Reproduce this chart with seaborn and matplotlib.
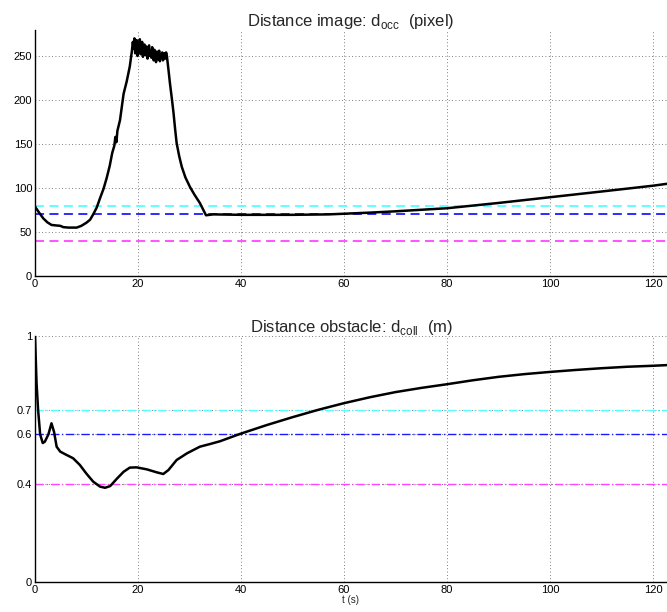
import numpy as np
import pandas as pd
import matplotlib
matplotlib.use("Agg")
import matplotlib.pyplot as plt
import seaborn as sns

# ---- data: d_occ (pixel) ----
t_occ_a = [0, 0.8, 1.6, 2.4, 3.2, 4.0, 4.9, 5.5, 6.5, 8.1, 9.0, 10.0, 10.7, 11.3, 12.0, 12.6, 13.3,
           13.9, 14.5, 15.0, 15.4, 15.6, 15.8, 16.0, 16.5, 17.2, 17.8, 18.4, 18.8]
v_occ_a = [78.8, 72, 65.5, 61, 58, 57.5, 57, 55.5, 55, 55, 57, 60.6, 64, 70, 78, 88, 99,
           111, 125, 140, 148, 158, 152, 165, 177, 207, 221, 238, 255]
t_occ_b = [19.0, 19.15, 19.3, 19.45, 19.6, 19.75, 19.9, 20.05, 20.2, 20.35, 20.5, 20.65, 20.8, 20.95,
           21.1, 21.25, 21.4, 21.55, 21.7, 21.85, 22.0, 22.15, 22.3, 22.45, 22.6, 22.75, 22.9, 23.05,
           23.2, 23.35, 23.5, 23.65, 23.8, 23.95, 24.1, 24.25, 24.4, 24.55, 24.7, 24.85, 25.0, 25.15,
           25.3, 25.45, 25.6]
v_occ_b = [266, 258, 270, 253, 262, 268, 250, 264, 257, 269, 252, 260, 266, 249, 258, 263, 251, 261,
           255, 247, 259, 262, 250, 256, 248, 260, 253, 245, 257, 251, 243, 255, 249, 246, 256, 244,
           252, 248, 254, 245, 251, 253, 247, 254, 250]
t_occ_c = [25.9, 26.2, 26.6, 26.9, 27.2, 27.5, 28.0, 28.5, 29.2, 30.1, 31.0, 32.0, 32.6, 33.2, 34.6,
           40, 50, 57, 65, 70, 80, 90, 100, 110, 120, 123]
v_occ_c = [235, 219, 200, 185, 167, 151, 136, 124, 112, 101, 92, 83, 76, 69, 70,
           69.5, 69.5, 70, 72, 73.5, 77, 83, 89.5, 96, 102.6, 105]

# ---- data: d_coll (m) ----
t_coll = [0, 0.3, 0.6, 1.0, 1.5, 1.9, 2.6, 3.2, 3.7, 4.2, 4.9, 5.8, 7.4, 8.7, 10.0, 11.3, 12.6, 13.6,
          14.6, 15.9, 17.2, 18.4, 19.7, 21.7, 23.6, 24.9, 25.9, 27.5, 29.5, 32.0, 34.0, 35.9, 39.8,
          45, 50, 55, 60, 65, 70, 75, 80, 85, 90, 95, 100, 105, 110, 115, 120, 123]
v_coll = [1.0, 0.81, 0.70, 0.60, 0.565, 0.57, 0.60, 0.645, 0.61, 0.55, 0.53, 0.52, 0.503, 0.476,
          0.44, 0.408, 0.388, 0.383, 0.39, 0.42, 0.448, 0.465, 0.466, 0.458, 0.446, 0.439, 0.455,
          0.496, 0.523, 0.55, 0.561, 0.572, 0.602, 0.638, 0.670, 0.700, 0.727, 0.751, 0.772, 0.789,
          0.804, 0.820, 0.834, 0.845, 0.854, 0.862, 0.869, 0.875, 0.879, 0.882]

thr_occ = [80, 70, 40]
thr_coll = [0.7, 0.6, 0.4]
thr_colors = ["#55ffff", "#1a1aff", "#ff44ff"]

x_ticks = [0, 20, 40, 60, 80, 100, 120]
y_ticks_occ = [0, 50, 100, 150, 200, 250]
y_ticks_coll = [0, 0.4, 0.6, 0.7, 1]

sns.set_style("white")
plt.rcParams['font.family'] = ['Liberation Sans', 'DejaVu Sans']

df_occ = pd.DataFrame({"t": t_occ_a + t_occ_b + t_occ_c, "v": v_occ_a + v_occ_b + v_occ_c})
df_coll = pd.DataFrame({"t": t_coll, "v": v_coll})

fig = plt.figure(figsize=(6.67, 6.12), dpi=100)
ax1 = fig.add_axes([35/667, 1-276/612, 1-35/667, 246/612])
ax2 = fig.add_axes([35/667, 1-582/612, 1-35/667, 246/612])

def style(ax, yticks, ylim):
    ax.set_xlim(0, 122.7)
    ax.set_ylim(*ylim)
    ax.set_xticks(x_ticks)
    ax.set_yticks(yticks)
    ax.set_yticklabels([("%g" % y) for y in yticks])
    ax.grid(True, linestyle=(0, (1, 3)), color="#555555", linewidth=0.6)
    ax.set_axisbelow(True)
    for s in ["top", "right"]:
        ax.spines[s].set_visible(False)
    for s in ["left", "bottom"]:
        ax.spines[s].set_color("black")
        ax.spines[s].set_linewidth(1.0)
    ax.tick_params(direction="in", length=4, labelsize=8, pad=2, colors="black")
    ax.set_xlabel("")
    ax.set_ylabel("")

for v, c in zip(thr_occ, thr_colors):
    ax1.axhline(v, color=c, linestyle=(0, (5, 3)), linewidth=1.3, zorder=2)
sns.lineplot(data=df_occ, x="t", y="v", ax=ax1, color="black", linewidth=1.8, sort=False, zorder=3)
style(ax1, y_ticks_occ, (0, 279.5))
ax1.set_title(r"Distance image: d$_{\mathregular{occ}}$  (pixel)", fontsize=12, pad=3)

for v, c in zip(thr_coll, thr_colors):
    ax2.axhline(v, color=c, linestyle=(0, (6, 2, 1, 2)), linewidth=1.0, zorder=2)
sns.lineplot(data=df_coll, x="t", y="v", ax=ax2, color="black", linewidth=1.8, sort=False, zorder=3)
style(ax2, y_ticks_coll, (0, 1))
ax2.set_title(r"Distance obstacle: d$_{\mathregular{coll}}$  (m)", fontsize=12, pad=3)
ax2.set_xlabel("t (s)", fontsize=7, labelpad=0)

fig.savefig("out.png", dpi=100)
